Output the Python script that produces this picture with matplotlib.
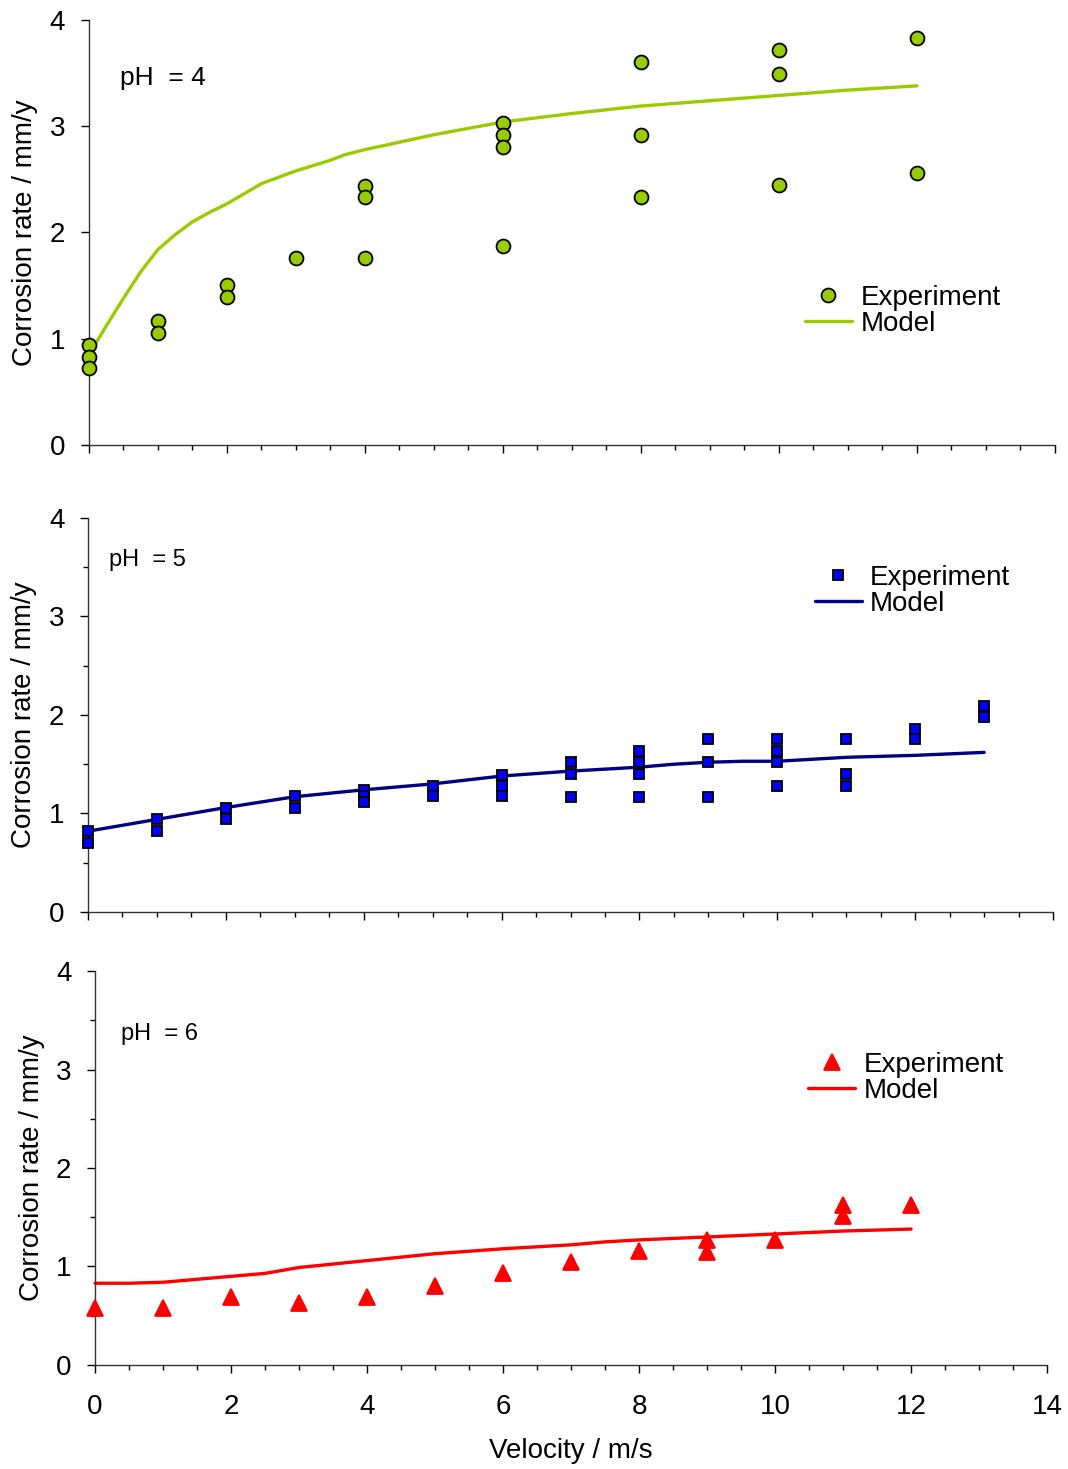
import matplotlib.pyplot as plt
from matplotlib.ticker import MultipleLocator

plt.rcParams['font.family'] = ['Liberation Sans', 'DejaVu Sans']

# pH = 4
ph4_exp_v = [0, 0, 0, 1, 1, 2, 2, 3, 4, 4, 4, 6, 6, 6, 6, 8, 8, 8, 10, 10, 10, 12, 12]
ph4_exp_cr = [0.94, 0.83, 0.72, 1.17, 1.05, 1.51, 1.39, 1.76, 2.44, 2.33, 1.76,
              3.03, 2.92, 2.80, 1.87, 3.60, 2.92, 2.33, 3.72, 3.49, 2.45, 3.83, 2.56]
ph4_model_v = [0, 0.25, 0.5, 0.75, 1, 1.25, 1.5, 1.75, 2, 2.5, 3, 3.5, 3.7, 4,
               5, 6, 7, 8, 9, 10, 11, 12]
ph4_model_cr = [0.85, 1.12, 1.38, 1.63, 1.84, 1.98, 2.10, 2.19, 2.27, 2.46, 2.58,
                2.68, 2.73, 2.78, 2.92, 3.04, 3.12, 3.19, 3.24, 3.29, 3.34, 3.38]

# pH = 5
ph5_exp_v = [0, 0, 1, 1, 2, 2, 3, 3, 4, 4, 4, 5, 5, 6, 6, 6, 7, 7, 7,
             8, 8, 8, 8, 9, 9, 9, 10, 10, 10, 10, 11, 11, 11, 12, 12, 13, 13]
ph5_exp_cr = [0.82, 0.70, 0.94, 0.82, 1.06, 0.94, 1.18, 1.06, 1.24, 1.18, 1.12,
              1.28, 1.18, 1.39, 1.28, 1.18, 1.52, 1.40, 1.17,
              1.63, 1.52, 1.40, 1.17, 1.76, 1.52, 1.17, 1.76, 1.63, 1.52, 1.28,
              1.76, 1.40, 1.28, 1.86, 1.76, 2.09, 1.98]
ph5_model_v = [0, 1, 2, 3, 4, 5, 6, 7, 8, 8.5, 9, 9.5, 10, 11, 12, 13]
ph5_model_cr = [0.82, 0.94, 1.06, 1.17, 1.24, 1.30, 1.38, 1.43, 1.47, 1.50, 1.52,
                1.53, 1.53, 1.57, 1.59, 1.62]

# pH = 6
ph6_exp_v = [0, 1, 2, 3, 4, 5, 6, 7, 8, 9, 9, 10, 11, 11, 12]
ph6_exp_cr = [0.58, 0.58, 0.69, 0.63, 0.69, 0.80, 0.93, 1.05, 1.16, 1.27, 1.15,
              1.27, 1.62, 1.51, 1.62]
ph6_model_v = [0, 0.5, 1, 2, 2.5, 3, 4, 5, 6, 7, 7.5, 8, 9, 10, 11, 12]
ph6_model_cr = [0.83, 0.83, 0.84, 0.90, 0.93, 0.99, 1.06, 1.13, 1.18, 1.22, 1.25,
                1.27, 1.30, 1.33, 1.36, 1.38]

fig = plt.figure(figsize=(10.68, 14.69), dpi=100)

panels = [
    dict(rect=[0.0833, 0.6971, 0.9045, 0.2893], ev=ph4_exp_v, ecr=ph4_exp_cr,
         mv=ph4_model_v, mcr=ph4_model_cr, color='#99CC00', marker='o', ms=10,
         mec='black', line='#99CC00', text='pH  = 4', tpos=(0.032, 0.864), tsize=19,
         yminor=False, leg=(0.741, 0.315)),
    dict(rect=[0.0824, 0.3792, 0.9036, 0.2682], ev=ph5_exp_v, ecr=ph5_exp_cr,
         mv=ph5_model_v, mcr=ph5_model_cr, color='#0000FF', marker='s', ms=7.5,
         mec='black', line='#000080', text='pH  = 5', tpos=(0.022, 0.893), tsize=17,
         yminor=True, leg=(0.753, 0.815)),
    dict(rect=[0.0890, 0.0708, 0.8914, 0.2682], ev=ph6_exp_v, ecr=ph6_exp_cr,
         mv=ph6_model_v, mcr=ph6_model_cr, color='#FF0000', marker='^', ms=12,
         mec='#FF0000', line='#FF0000', text='pH  = 6', tpos=(0.027, 0.84), tsize=17,
         yminor=True, leg=(0.749, 0.728)),
]

for i, p in enumerate(panels):
    ax = fig.add_axes(p['rect'])
    model, = ax.plot(p['mv'], p['mcr'], color=p['line'], lw=2.4, label='Model',
                     solid_capstyle='round', solid_joinstyle='round', clip_on=False)
    exp, = ax.plot(p['ev'], p['ecr'], linestyle='none', marker=p['marker'],
                   ms=p['ms'], mfc=p['color'], mec=p['mec'], mew=1.3,
                   label='Experiment', clip_on=False, zorder=3)
    ax.set_xlim(0, 14)
    ax.set_ylim(0, 4)
    for s in ['top', 'right']:
        ax.spines[s].set_visible(False)
    for s in ['left', 'bottom']:
        ax.spines[s].set_color('#333333')
        ax.spines[s].set_linewidth(1.0)
    ax.xaxis.set_major_locator(MultipleLocator(2))
    ax.xaxis.set_minor_locator(MultipleLocator(0.5))
    ax.yaxis.set_major_locator(MultipleLocator(1))
    if p['yminor']:
        ax.yaxis.set_minor_locator(MultipleLocator(0.5))
    ax.tick_params(axis='both', which='major', direction='out', length=6,
                   width=1.0, labelsize=20)
    ax.tick_params(axis='both', which='minor', direction='out', length=3.5,
                   width=1.0)
    ax.tick_params(axis='y', which='major', pad=11)
    ax.tick_params(axis='x', which='major', pad=15)
    if i < 2:
        ax.tick_params(axis='x', labelbottom=False)
    else:
        ax.set_xlabel('Velocity / m/s', fontsize=20)
        ax.xaxis.set_label_coords(0.5, -0.185)
    ax.set_ylabel('Corrosion rate / mm/y', fontsize=20)
    ax.yaxis.set_label_coords(-0.053, 0.5)
    ax.text(p['tpos'][0], p['tpos'][1], p['text'], transform=ax.transAxes,
            fontsize=p['tsize'], va='center', ha='left')
    ax.legend(handles=[exp, model], loc='center left', bbox_to_anchor=p['leg'],
              frameon=False, fontsize=20, numpoints=1, handlelength=1.7,
              handletextpad=0.3, labelspacing=0.0, borderpad=0,
              borderaxespad=0)

fig.savefig('out.png', dpi=100)
